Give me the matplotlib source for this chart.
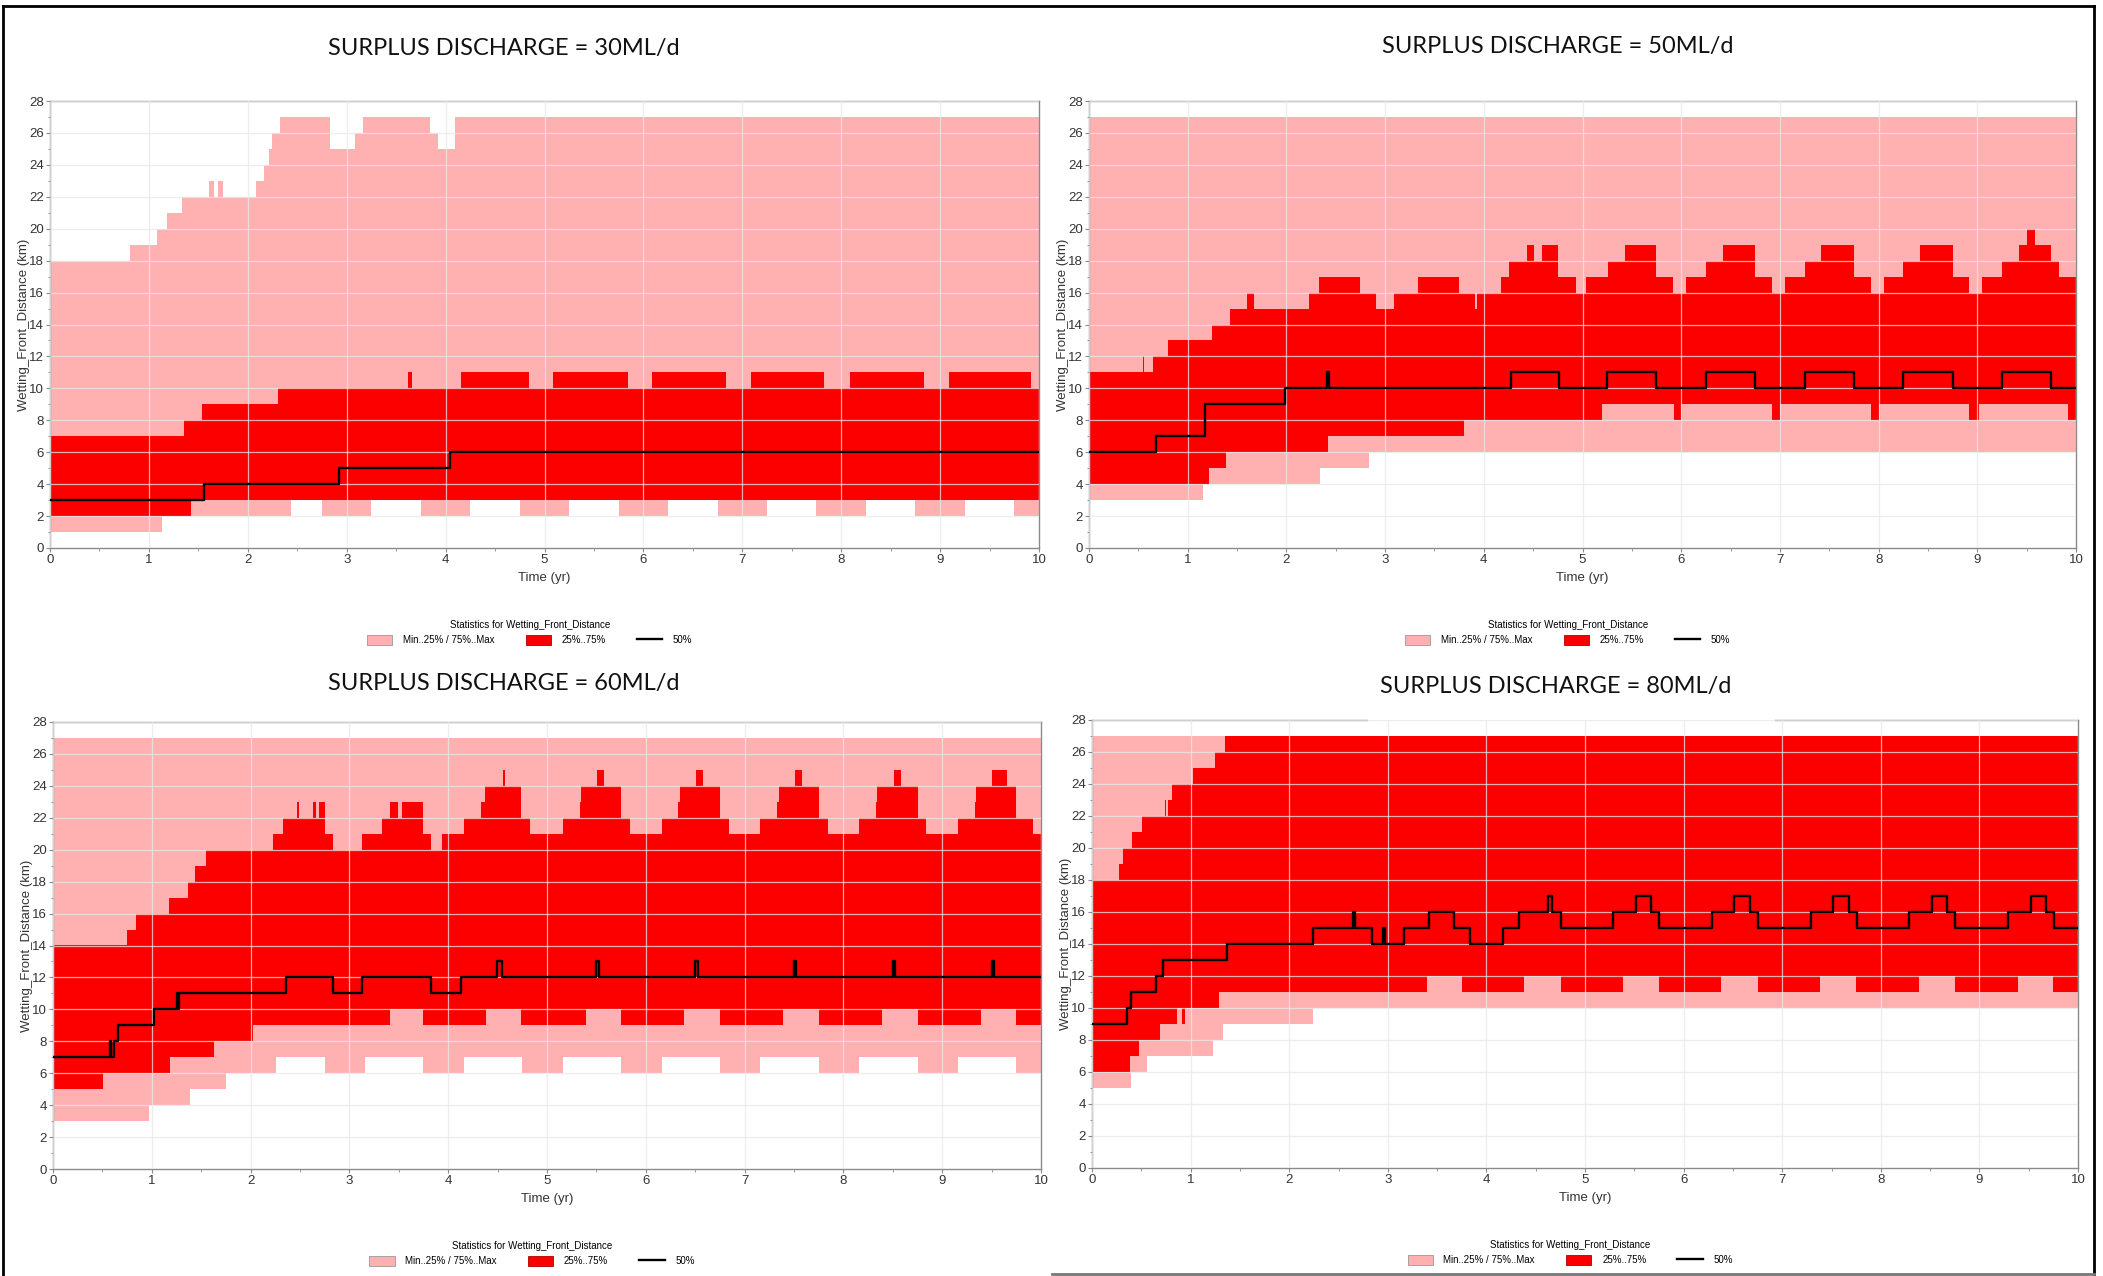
import numpy as np
import matplotlib
matplotlib.use("Agg")
import matplotlib.pyplot as plt
import matplotlib.ticker as mticker
from matplotlib.patches import Patch
from matplotlib.lines import Line2D
from matplotlib import font_manager

# ==========================================
# data: step change points (time in yr, distance in km)
# ==========================================
T_END = 10

titles = ["SURPLUS DISCHARGE = 30ML/d", "SURPLUS DISCHARGE = 50ML/d",
          "SURPLUS DISCHARGE = 60ML/d", "SURPLUS DISCHARGE = 80ML/d"]

# --- 30 ML/d ---
p1_min = [(0, 1), (1.13, 2), (2.44, 3), (2.75, 2), (3.25, 3), (3.75, 2), (4.25, 3), (4.75, 2),
          (5.25, 3), (5.75, 2), (6.25, 3), (6.75, 2), (7.25, 3), (7.75, 2), (8.25, 3),
          (8.75, 2), (9.25, 3), (9.75, 2)]
p1_max = [(0, 18), (0.805, 19), (1.086, 20), (1.186, 21), (1.33, 22), (1.61, 23), (1.66, 22),
          (1.70, 23), (1.75, 22), (2.08, 23), (2.16, 24), (2.21, 25), (2.24, 26), (2.33, 27),
          (2.83, 25), (3.08, 26), (3.16, 27), (3.84, 26), (3.92, 25), (4.09, 27)]
p1_p25 = [(0, 2), (1.43, 3)]
p1_p75 = [(0, 7), (1.35, 8), (1.54, 9), (2.31, 10), (3.615, 11), (3.665, 10), (4.16, 11),
          (4.84, 10), (5.09, 11), (5.84, 10), (6.09, 11), (6.84, 10), (7.09, 11), (7.83, 10),
          (8.09, 11), (8.84, 10), (9.09, 11), (9.92, 10)]
p1_p50 = [(0, 3), (1.56, 4), (2.92, 5), (4.04, 6)]

# --- 50 ML/d ---
p2_min = [(0, 3), (1.16, 4), (2.34, 5), (2.84, 6)]
p2_max = [(0, 27)]
p2_p25 = [(0, 4), (1.22, 5), (1.385, 6), (2.42, 7), (3.80, 8), (5.20, 9), (5.93, 8), (6.0, 9),
          (6.92, 8), (7.0, 9), (7.92, 8), (8.0, 9), (8.92, 8), (9.02, 9), (9.92, 8)]
p2_p75 = [(0, 11), (0.547, 12), (0.56, 11), (0.65, 12), (0.80, 13), (1.25, 14), (1.43, 15),
          (1.60, 16), (1.67, 15), (2.23, 16), (2.33, 17), (2.75, 16), (2.91, 15), (3.09, 16),
          (3.33, 17), (3.75, 16), (3.91, 15), (3.93, 16), (4.17, 17), (4.26, 18), (4.44, 19),
          (4.507, 18), (4.59, 19), (4.756, 17), (4.93, 16), (5.04, 17), (5.26, 18), (5.43, 19),
          (5.74, 17), (5.92, 16), (6.05, 17), (6.25, 18), (6.42, 19), (6.75, 17), (6.92, 16),
          (7.05, 17), (7.25, 18), (7.42, 19), (7.75, 17), (7.92, 16), (8.05, 17), (8.25, 18),
          (8.42, 19), (8.75, 17), (8.92, 16), (9.05, 17), (9.25, 18), (9.42, 19), (9.50, 20),
          (9.58, 19), (9.75, 18), (9.83, 17)]
p2_p50 = [(0, 6), (0.674, 7), (1.18, 9), (1.99, 10), (2.41, 11), (2.435, 10), (4.28, 11),
          (4.76, 10), (5.25, 11), (5.74, 10), (6.25, 11), (6.75, 10), (7.25, 11), (7.75, 10),
          (8.25, 11), (8.75, 10), (9.25, 11), (9.75, 10)]

# --- 60 ML/d ---
p3_min = [(0, 3), (0.968, 4), (1.39, 5), (1.746, 6), (2.26, 7), (2.75, 6), (3.16, 7),
          (3.745, 6), (4.16, 7), (4.75, 6), (5.16, 7), (5.75, 6), (6.16, 7), (6.75, 6),
          (7.16, 7), (7.75, 6), (8.16, 7), (8.75, 6), (9.16, 7), (9.75, 6)]
p3_max = [(0, 27)]
p3_p25 = [(0, 5), (0.509, 6), (1.188, 7), (1.632, 8), (2.025, 9), (3.41, 10), (3.74, 9),
          (4.38, 10), (4.74, 9), (5.39, 10), (5.75, 9), (6.39, 10), (6.75, 9), (7.39, 10),
          (7.75, 9), (8.39, 10), (8.75, 9), (9.39, 10), (9.75, 9)]
p3_p75 = [(0, 14), (0.744, 15), (0.84, 16), (1.173, 17), (1.368, 18), (1.433, 19), (1.545, 20),
          (2.224, 21), (2.33, 22), (2.47, 23), (2.49, 22), (2.63, 23), (2.66, 22), (2.69, 23),
          (2.75, 21), (2.83, 20), (3.13, 21), (3.325, 22), (3.41, 23), (3.49, 22), (3.53, 23),
          (3.74, 21), (3.83, 20), (3.935, 21), (4.155, 22), (4.33, 23), (4.375, 24), (4.55, 25),
          (4.57, 24), (4.74, 22), (4.83, 21), (5.16, 22), (5.33, 23), (5.345, 24), (5.51, 25),
          (5.58, 24), (5.75, 22), (5.84, 21), (6.16, 22), (6.33, 23), (6.345, 24), (6.51, 25),
          (6.58, 24), (6.75, 22), (6.84, 21), (7.16, 22), (7.33, 23), (7.345, 24), (7.51, 25),
          (7.58, 24), (7.75, 22), (7.84, 21), (8.16, 22), (8.33, 23), (8.345, 24), (8.51, 25),
          (8.58, 24), (8.75, 22), (8.84, 21), (9.16, 22), (9.33, 23), (9.345, 24), (9.50, 25),
          (9.66, 24), (9.75, 22), (9.92, 21)]
p3_p50 = [(0, 7), (0.574, 8), (0.59, 7), (0.62, 8), (0.66, 9), (1.02, 10), (1.25, 11),
          (1.265, 10), (1.28, 11), (2.36, 12), (2.83, 11), (3.13, 12), (3.83, 11), (4.13, 12),
          (4.49, 13), (4.54, 12), (5.50, 13), (5.525, 12), (6.50, 13), (6.525, 12), (7.50, 13),
          (7.525, 12), (8.50, 13), (8.525, 12), (9.50, 13), (9.525, 12)]

# --- 80 ML/d ---
p4_min = [(0, 5), (0.40, 6), (0.56, 7), (1.23, 8), (1.33, 9), (2.24, 10)]
p4_max = [(0, 27)]
p4_p25 = [(0, 6), (0.384, 7), (0.478, 8), (0.69, 9), (0.862, 10), (0.917, 9), (0.94, 10),
          (1.286, 11), (3.40, 12), (3.75, 11), (4.38, 12), (4.757, 11), (5.386, 12), (5.754, 11),
          (6.38, 12), (6.75, 11), (7.38, 12), (7.75, 11), (8.39, 12), (8.75, 11), (9.39, 12),
          (9.75, 11)]
p4_p75 = [(0, 18), (0.275, 19), (0.31, 20), (0.41, 21), (0.51, 22), (0.74, 23), (0.755, 22),
          (0.77, 23), (0.81, 24), (1.025, 25), (1.25, 26), (1.344, 27)]
p4_p50 = [(0, 9), (0.35, 10), (0.40, 11), (0.652, 12), (0.72, 13), (1.366, 14), (2.24, 15),
          (2.65, 16), (2.67, 15), (2.84, 14), (2.95, 15), (2.97, 14), (3.16, 15), (3.42, 16),
          (3.667, 15), (3.83, 14), (4.167, 15), (4.33, 16), (4.627, 17), (4.67, 16), (4.76, 15),
          (5.288, 16), (5.516, 17), (5.674, 16), (5.754, 15), (6.288, 16), (6.516, 17),
          (6.674, 16), (6.754, 15), (7.288, 16), (7.516, 17), (7.674, 16), (7.754, 15),
          (8.288, 16), (8.516, 17), (8.674, 16), (8.754, 15), (9.29, 16), (9.52, 17),
          (9.674, 16), (9.754, 15)]

# ==========================================
# style
# ==========================================
PINK = "#ffb1b1"
RED = "#fc0000"
GRID = "#e8e8e8"
SPINE = "#8a8a8a"

installed = {f.name for f in font_manager.fontManager.ttflist}
NARROW = ["Liberation Sans Narrow", "Liberation Sans", "DejaVu Sans"]
if "Liberation Sans Narrow" not in installed:
    NARROW = ["Liberation Sans", "DejaVu Sans"]
TITLE_FONT = ["Lato", "DejaVu Sans"]
plt.rcParams["font.family"] = NARROW


def unzip(steps):
    t = np.array([s[0] for s in steps], dtype=float)
    v = np.array([s[1] for s in steps], dtype=float)
    return t, v


def eval_steps(steps, grid):
    t, v = unzip(steps)
    idx = np.searchsorted(t, grid, side="right") - 1
    return v[np.clip(idx, 0, len(v) - 1)]


def band(ax, lo, hi, color):
    grid = np.unique(np.concatenate([unzip(lo)[0], unzip(hi)[0], [T_END]]))
    ax.fill_between(grid, eval_steps(lo, grid), eval_steps(hi, grid),
                    step="post", color=color, lw=0, zorder=1)


def median_line(ax, steps):
    t, v = unzip(steps)
    t = np.append(t, T_END)
    v = np.append(v, v[-1])
    ax.step(t, v, where="post", color="black", lw=1.7, zorder=3)


panels = [
    (p1_min, p1_max, p1_p25, p1_p75, p1_p50),
    (p2_min, p2_max, p2_p25, p2_p75, p2_p50),
    (p3_min, p3_max, p3_p25, p3_p75, p3_p50),
    (p4_min, p4_max, p4_p25, p4_p75, p4_p50),
]

# axes boxes in pixels (left, top, right, bottom) of the 2103x1276 canvas
W, H = 2103, 1276
boxes = [(50, 101, 1039, 548), (1089, 101, 2076, 548),
         (53, 722, 1041, 1169), (1092, 720, 2078, 1168)]
title_pos = [(504, 49), (1558, 46), (504, 683), (1556, 686)]

fig = plt.figure(figsize=(W / 100, H / 100), dpi=100)
fig.patch.set_facecolor("white")

for i, (mn, mx, q25, q75, q50) in enumerate(panels):
    l, t, r, b = boxes[i]
    ax = fig.add_axes([l / W, 1 - b / H, (r - l) / W, (b - t) / H])

    band(ax, mn, mx, PINK)
    band(ax, q25, q75, RED)
    median_line(ax, q50)

    ax.set_xlim(0, T_END)
    ax.set_ylim(0, 28)
    ax.xaxis.set_major_locator(mticker.MultipleLocator(1))
    ax.xaxis.set_minor_locator(mticker.MultipleLocator(0.5))
    ax.yaxis.set_major_locator(mticker.MultipleLocator(2))
    ax.yaxis.set_minor_locator(mticker.MultipleLocator(1))
    ax.set_axisbelow(False)
    ax.grid(True, which="major", color=GRID, lw=0.9, alpha=0.75, zorder=2)

    for s in ["left", "bottom", "right", "top"]:
        ax.spines[s].set_color(SPINE)
        ax.spines[s].set_linewidth(1.0)
    ax.tick_params(which="major", direction="out", length=3, width=0.8, color=SPINE,
                   labelsize=9.5, labelcolor="#333333", pad=1.5)
    ax.tick_params(which="minor", direction="out", length=1.8, width=0.6, color=SPINE)

    if i == 3:
        # top frame of this panel is only partly drawn in the source
        ax.spines["top"].set_visible(False)
        for x0, x1 in [(0, 0.279), (0.693, 1)]:
            ax.add_line(Line2D([x0, x1], [1, 1], transform=ax.transAxes, color=SPINE,
                               lw=1.0, clip_on=False))

    ax.set_xlabel("Time (yr)", fontsize=9.5, color="#333333", labelpad=4)
    ax.set_ylabel("Wetting_Front_Distance (km)", fontsize=9.5, color="#333333", labelpad=-0.5)

    handles = [Patch(facecolor=PINK, edgecolor="#999999", lw=0.6),
               Patch(facecolor=RED, edgecolor="#b00000", lw=0.6),
               Line2D([], [], color="black", lw=1.7)]
    leg = ax.legend(handles, ["Min..25% / 75%..Max", "25%..75%", "50%"],
                    loc="upper center", bbox_to_anchor=(0.485, -0.145), ncol=3,
                    frameon=False, fontsize=7, title="Statistics for Wetting_Front_Distance",
                    title_fontsize=7, handlelength=2.6, handleheight=1.1,
                    columnspacing=3.2, handletextpad=1.1, borderpad=0.2, labelspacing=0.2)
    leg._legend_box.sep = 4

    tx, ty = title_pos[i]
    fig.text(tx / W, 1 - ty / H, titles[i], ha="center", va="center", fontsize=17,
             family=TITLE_FONT, color="#111111")

# outer frame of the composite image
frame = [([3, 3], [6, 1276], "black"), ([3, 2094], [6, 6], "black"),
         ([2094, 2094], [6, 1276], "black"), ([1052, 2094], [1274, 1274], "#777777")]
for xs, ys, c in frame:
    fig.add_artist(Line2D([x / W for x in xs], [1 - y / H for y in ys], color=c, lw=2.0,
                          transform=fig.transFigure))

fig.savefig("out.png", dpi=100, facecolor="white")
